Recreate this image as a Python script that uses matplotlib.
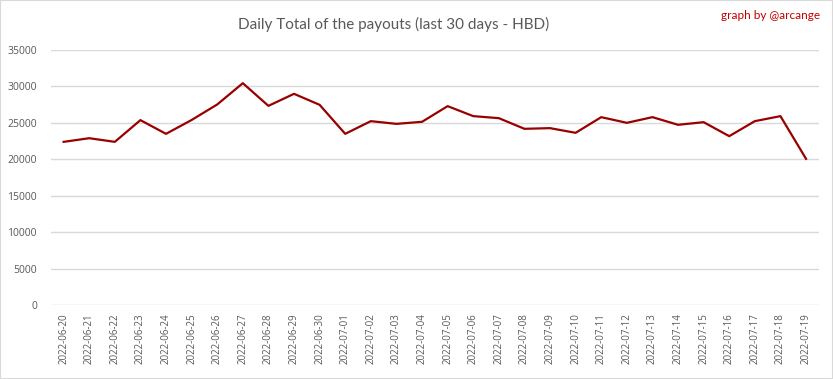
import matplotlib
matplotlib.use("Agg")
import matplotlib.pyplot as plt

dates = ['2022-06-20', '2022-06-21', '2022-06-22', '2022-06-23', '2022-06-24', '2022-06-25',
         '2022-06-26', '2022-06-27', '2022-06-28', '2022-06-29', '2022-06-30', '2022-07-01',
         '2022-07-02', '2022-07-03', '2022-07-04', '2022-07-05', '2022-07-06', '2022-07-07',
         '2022-07-08', '2022-07-09', '2022-07-10', '2022-07-11', '2022-07-12', '2022-07-13',
         '2022-07-14', '2022-07-15', '2022-07-16', '2022-07-17', '2022-07-18', '2022-07-19']
payouts = [22400, 22900, 22400, 25380, 23500, 25400, 27530, 30450, 27340, 28990,
           27480, 23500, 25240, 24870, 25150, 27300, 25930, 25650, 24190, 24280,
           23640, 25790, 25010, 25790, 24740, 25100, 23180, 25240, 25930, 20070]
yticks = [0, 5000, 10000, 15000, 20000, 25000, 30000, 35000]

plt.rcParams['font.family'] = ['Open Sans', 'DejaVu Sans']

fig = plt.figure(figsize=(8.33, 3.79), dpi=100)
ax = fig.add_axes([0.061, 0.195, 0.922, 0.673])

x = list(range(len(dates)))
ax.plot(x, payouts, color='#990000', linewidth=1.6)

ax.set_xlim(-0.5, len(dates) - 0.5)
ax.set_ylim(0, 35000)
ax.set_yticks(yticks)
ax.set_yticklabels([str(v) for v in yticks], fontsize=7.5, color='#595959')
ax.set_xticks(x)
ax.set_xticklabels(dates, rotation=90, fontsize=7, color='#595959')
ax.tick_params(length=0, pad=6)
ax.tick_params(axis='y', pad=10)

ax.grid(axis='y', color='#d9d9d9', linewidth=1)
ax.set_axisbelow(True)
for s in ax.spines.values():
    s.set_visible(False)

# title in a narrower face, closer to the original's width
fig.text(0.472, 0.935, 'Daily Total of the payouts (last 30 days - HBD)',
         ha='center', va='center', fontsize=11, color='#595959',
         family=['Lato', 'DejaVu Sans'])
fig.text(0.984, 0.96, 'graph by @arcange', ha='right', va='center',
         fontsize=8.5, color='#c00000', family=['Lato', 'DejaVu Sans'])

border = plt.Rectangle((0, 0), 1, 1, transform=fig.transFigure, fill=False,
                       edgecolor='#d9d9d9', linewidth=1.5)
fig.patches.append(border)

fig.savefig('out.png', dpi=100)
